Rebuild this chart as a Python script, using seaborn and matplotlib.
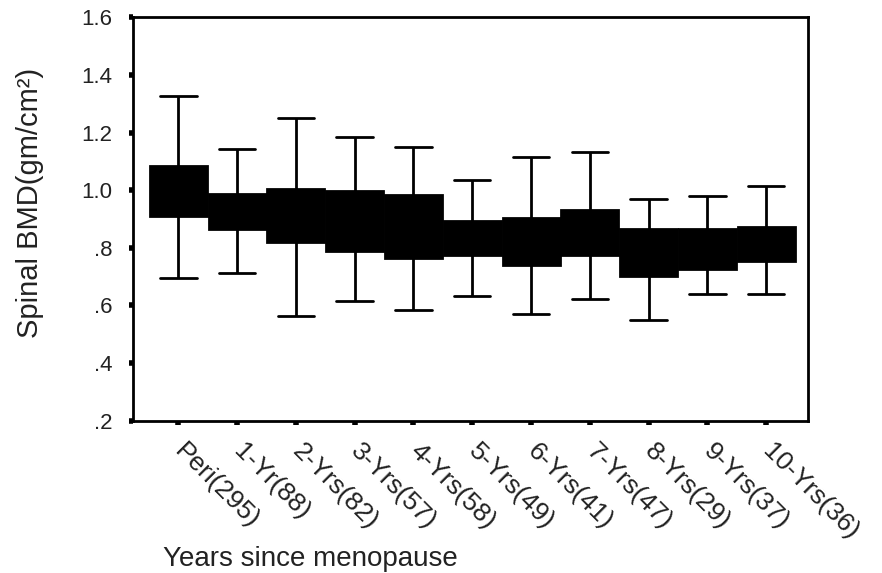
import numpy as np
import pandas as pd
import matplotlib
matplotlib.use("Agg")
import matplotlib.pyplot as plt
import seaborn as sns

# ── Data ─────────────────────────────────────────────────────────────────────
groups = ["Peri(295)", "1-Yr(88)", "2-Yrs(82)", "3-Yrs(57)", "4-Yrs(58)",
          "5-Yrs(49)", "6-Yrs(41)", "7-Yrs(47)", "8-Yrs(29)", "9-Yrs(37)",
          "10-Yrs(36)"]
lows    = [0.697, 0.714, 0.562, 0.616, 0.585, 0.633, 0.569, 0.622, 0.550, 0.641, 0.641]
q1s     = [0.909, 0.866, 0.820, 0.790, 0.766, 0.775, 0.740, 0.775, 0.702, 0.726, 0.755]
medians = [0.990, 0.930, 0.910, 0.890, 0.870, 0.830, 0.820, 0.850, 0.790, 0.800, 0.810]
q3s     = [1.084, 0.986, 1.006, 0.997, 0.985, 0.894, 0.904, 0.930, 0.865, 0.865, 0.874]
highs   = [1.329, 1.143, 1.250, 1.186, 1.151, 1.035, 1.116, 1.133, 0.971, 0.979, 1.014]
yticks  = [0.2, 0.4, 0.6, 0.8, 1.0, 1.2, 1.4, 1.6]
ytick_labels = [".2", ".4", ".6", ".8", "1.0", "1.2", "1.4", "1.6"]

# five-number summary per group -> long form table
rows = []
for g, a, b, c, d, e in zip(groups, lows, q1s, medians, q3s, highs):
    for v in (a, b, c, d, e):
        rows.append({"group": g, "bmd": v})
df = pd.DataFrame(rows)

# ── Plot ──────────────────────────────────────────────────────────────────────
sns.set_theme(style="white")
plt.rcParams["font.family"] = ["Liberation Sans", "DejaVu Sans"]

fig = plt.figure(figsize=(8.82, 5.73), dpi=100)
ax = fig.add_axes([0.1508, 0.2658, 0.7653, 0.7037])

sns.boxplot(data=df, x="group", y="bmd", order=groups, whis=(0, 100),
            width=0.97, color="black", linecolor="black", linewidth=2,
            showfliers=False, capwidths=0.62, ax=ax)

ax.set_xlim(-0.77, 10.71)
ax.set_ylim(0.2, 1.6)
ax.set_yticks(yticks)
ax.set_yticklabels(ytick_labels, fontsize=16)
ax.set_xticks(range(len(groups)))
ax.set_xticklabels(groups, fontsize=19, rotation=-45, ha="left", va="center",
                   rotation_mode="anchor")

for side in ["left", "right", "top", "bottom"]:
    ax.spines[side].set_visible(True)
    ax.spines[side].set_color("black")
    ax.spines[side].set_linewidth(2)

ax.tick_params(axis="both", which="both", direction="out", length=3, width=4,
               color="black", labelcolor="#222222", bottom=True, left=True)
ax.tick_params(axis="y", pad=12)
ax.tick_params(axis="x", pad=16)

ax.set_ylabel("Spinal BMD(gm/cm²)", fontsize=21, color="#222222")
ax.yaxis.set_label_coords(-0.132, 0.54)
ax.set_xlabel("Years since menopause", fontsize=20, color="#222222", ha="left")
ax.xaxis.set_label_coords(0.044, -0.31)

plt.savefig("out.png", dpi=100)
